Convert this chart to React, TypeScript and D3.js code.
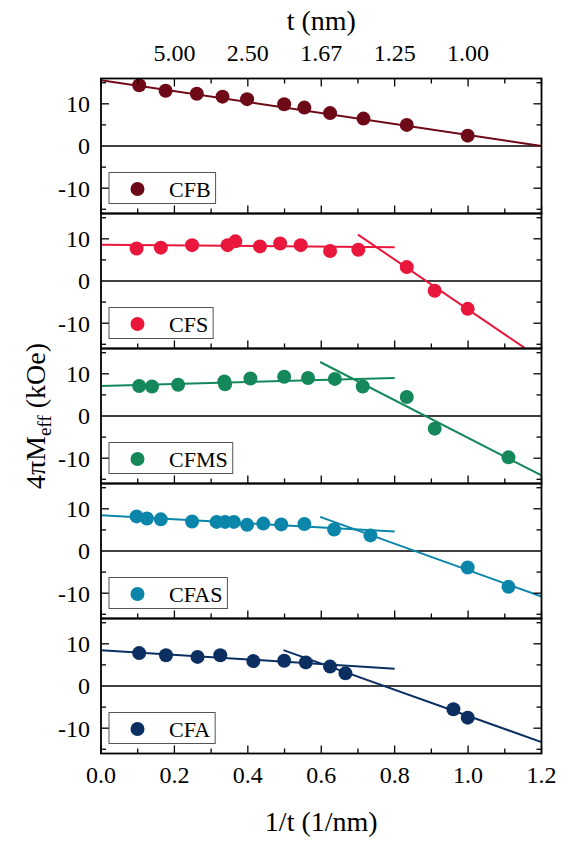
import React from 'react';
import * as d3 from 'd3';

// series names + colours (top to bottom)
const names = ['CFB', 'CFS', 'CFMS', 'CFAS', 'CFA'];
const colors = ['#6e0a17', '#e8173b', '#14885a', '#0b86aa', '#0c2f62'];

// measured points: 1/t (1/nm) vs 4piMeff (kOe)
const cfbX = [0.104, 0.176, 0.261, 0.331, 0.398, 0.499, 0.554, 0.624, 0.715, 0.833, 0.999];
const cfbY = [14.4, 13.1, 12.4, 11.7, 11.1, 9.9, 9.1, 7.8, 6.5, 5.0, 2.45];

const cfsX = [0.097, 0.163, 0.248, 0.345, 0.366, 0.433, 0.488, 0.544, 0.624, 0.701, 0.833, 0.909, 0.999];
const cfsY = [7.7, 7.9, 8.5, 8.5, 9.4, 8.2, 8.9, 8.5, 7.1, 7.4, 3.3, -2.3, -6.6];

const cfmsX = [0.104, 0.139, 0.21, 0.336, 0.338, 0.407, 0.499, 0.564, 0.637, 0.713, 0.833, 0.909, 1.11];
const cfmsY = [7.1, 7.0, 7.4, 8.2, 7.5, 8.9, 9.3, 9.0, 8.8, 7.0, 4.5, -3.0, -9.8];

const cfasX = [0.097, 0.125, 0.163, 0.248, 0.315, 0.338, 0.362, 0.398, 0.442, 0.491, 0.554, 0.635, 0.734, 0.999, 1.11];
const cfasY = [8.2, 7.7, 7.5, 7.0, 6.9, 6.9, 6.9, 6.2, 6.5, 6.3, 6.4, 5.1, 3.7, -3.9, -8.5];

const cfaX = [0.104, 0.177, 0.263, 0.325, 0.415, 0.499, 0.558, 0.624, 0.666, 0.96, 0.999];
const cfaY = [7.8, 7.3, 6.9, 7.3, 5.9, 6.0, 5.6, 4.6, 3.0, -5.5, -7.5];

// linear fits [x1, y1, x2, y2]
const cfbFits = [[0, 15.6, 1.2, 0]];
const cfsFits = [[0, 8.6, 0.8, 8.0], [0.7, 11.0, 1.153, -15.8]];
const cfmsFits = [[0, 7.1, 0.8, 9.0], [0.597, 12.8, 1.2, -14.1]];
const cfasFits = [[0, 8.5, 0.8, 4.6], [0.597, 8.1, 1.2, -10.8]];
const cfaFits = [[0, 8.5, 0.8, 4.1], [0.497, 8.5, 1.2, -13.3]];

const xsList = [cfbX, cfsX, cfmsX, cfasX, cfaX];
const ysList = [cfbY, cfsY, cfmsY, cfasY, cfaY];
const fitsList = [cfbFits, cfsFits, cfmsFits, cfasFits, cfaFits];

const xTicks = [0, 0.2, 0.4, 0.6, 0.8, 1.0, 1.2];
const topTicks = [0.2, 0.4, 0.6, 0.8, 1.0];
const topLabels = ['5.00', '2.50', '1.67', '1.25', '1.00'];
const yTicks = [10, 0, -10];

const FONT = "'Times New Roman', Tinos, 'Liberation Serif', 'DejaVu Serif', 'Noto Serif', 'Nimbus Roman', FreeSerif, Times, serif";
const txt = { fontFamily: FONT };

const left = 101;
const right = 541.5;
const top = 78.5;
const panelH = 135;

function textWidth(s: string, size: number) {
  const c = document.createElement('canvas').getContext('2d');
  if (!c) return s.length * size * 0.6;
  c.font = `${size}px ${FONT}`;
  return c.measureText(s).width;
}

export default function App() {
  const x = d3.scaleLinear().domain([0, 1.2]).range([left, right]);
  const minorX = d3.range(0, 1.21, 0.1);
  const minorY = [15, 10, 5, -5, -10, -15];

  const panels = names.map((name, i) => {
    const y0 = top + i * panelH;
    const y = d3.scaleLinear().domain([-16, 16]).range([y0 + panelH, y0]);
    const line = d3.line<number[]>().x(d => x(d[0])).y(d => y(d[1]));
    const col = colors[i];
    const legW = 60 + textWidth(name, 22) + 5;
    return (
      <g key={name}>
        <defs>
          <clipPath id={`clip${i}`}>
            <rect x={left} y={y0} width={right - left} height={panelH} />
          </clipPath>
        </defs>
        <line x1={left} x2={right} y1={y(0)} y2={y(0)} stroke="#000" strokeWidth={1.5} />
        <g clipPath={`url(#clip${i})`}>
          {fitsList[i].map((f, k) => (
            <path key={k} d={line([[f[0], f[1]], [f[2], f[3]]]) || ''} stroke={col} strokeWidth={2} fill="none" />
          ))}
        </g>
        {xsList[i].map((v, k) => (
          <circle key={k} cx={x(v)} cy={y(ysList[i][k])} r={7} fill={col} />
        ))}
        {/* frame and ticks */}
        <rect x={left} y={y0} width={right - left} height={panelH} fill="none" stroke="#000" strokeWidth={1.8} />
        {minorX.map((v, k) => {
          const len = k % 2 === 0 ? 8 : 5;
          return (
            <g key={k}>
              <line x1={x(v)} x2={x(v)} y1={y0 + panelH} y2={y0 + panelH - len} stroke="#000" strokeWidth={1.3} />
              {i === 0 && <line x1={x(v)} x2={x(v)} y1={y0} y2={y0 + len} stroke="#000" strokeWidth={1.3} />}
            </g>
          );
        })}
        {minorY.map(v => {
          const len = v % 10 === 0 ? 8 : 5;
          return (
            <g key={v}>
              <line x1={left} x2={left + len} y1={y(v)} y2={y(v)} stroke="#000" strokeWidth={1.3} />
              <line x1={right} x2={right - len} y1={y(v)} y2={y(v)} stroke="#000" strokeWidth={1.3} />
            </g>
          );
        })}
        {yTicks.map(v => (
          <text key={v} x={90} y={y(v)} dy="0.35em" textAnchor="end" fontSize={24} style={txt}>{v}</text>
        ))}
        {/* legend */}
        <rect x={109} y={y0 + 94} width={legW} height={31} fill="#fff" stroke="#555" strokeWidth={1} />
        <circle cx={137.5} cy={y0 + 110.5} r={7} fill={col} />
        <text x={169} y={y0 + 110.5} dy="0.35em" fontSize={22} style={txt}>{name}</text>
      </g>
    );
  });

  const bottom = top + 5 * panelH;

  return (
    <svg width={574} height={842} style={{ position: 'absolute', left: 0, top: 0, background: '#fff' }}>
      {panels}
      {xTicks.map(v => (
        <text key={v} x={x(v)} y={783} textAnchor="middle" fontSize={24} style={txt}>{d3.format('.1f')(v)}</text>
      ))}
      {topTicks.map((v, k) => (
        <text key={v} x={x(v)} y={61} textAnchor="middle" fontSize={24} style={txt}>{topLabels[k]}</text>
      ))}
      <text x={(left + right) / 2} y={30} textAnchor="middle" fontSize={28} style={txt}>t (nm)</text>
      <text x={(left + right) / 2} y={bottom + 77} textAnchor="middle" fontSize={28} style={txt}>1/t (1/nm)</text>
      <text transform={`translate(45,${(top + bottom) / 2}) rotate(-90)`} textAnchor="middle" fontSize={28} style={txt}>
        4πM<tspan fontSize={19} dy={6}>eff</tspan><tspan dy={-6}> (kOe)</tspan>
      </text>
    </svg>
  );
}
